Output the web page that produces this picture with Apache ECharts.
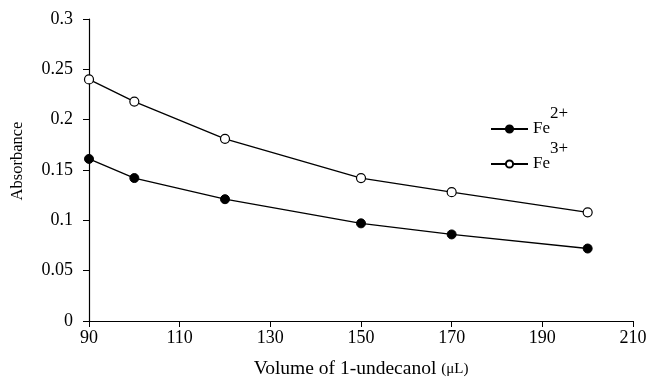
<!DOCTYPE html>
<html>
<head>
<meta charset="utf-8">
<script src="https://cdn.jsdelivr.net/npm/echarts@6/dist/echarts.min.js"></script>
<style>html,body{margin:0;padding:0;background:#fff}#c{width:654px;height:384px}</style>
</head>
<body>
<div id="c"></div>
<script>
const volumes = [90, 100, 120, 150, 170, 200];
const fe2 = [0.161, 0.142, 0.121, 0.097, 0.086, 0.072];
const fe3 = [0.240, 0.218, 0.181, 0.142, 0.128, 0.108];
const seriesNames = ['Fe2+', 'Fe3+'];
const xTicks = [90, 110, 130, 150, 170, 190, 210];
const yTicks = [0, 0.05, 0.1, 0.15, 0.2, 0.25, 0.3];

const font = 'Liberation Serif';
const chart = echarts.init(document.getElementById('c'), null, {renderer: 'canvas'});
const toPairs = (ys) => volumes.map((x, i) => [x, ys[i]]);
const rich = {
  b: {fontFamily: font, fontSize: 17, color: '#000', lineHeight: 48, verticalAlign: 'middle'},
  s: {fontFamily: font, fontSize: 17, color: '#000', lineHeight: 48, verticalAlign: 'top'}
};
function legendText(name) {
  return name === 'Fe2+' ? '{b|Fe}{s|2+}' : '{b|Fe}{s|3+}';
}
chart.setOption({
  animation: false,
  backgroundColor: '#fff',
  grid: {left: 89, right: 21, top: 19, bottom: 61},
  legend: [
    {data: [seriesNames[0]], left: 490, top: 105, padding: 0, itemWidth: 37, itemHeight: 9,
     formatter: legendText, textStyle: {rich: rich}},
    {data: [seriesNames[1]], left: 490, top: 140, padding: 0, itemWidth: 37, itemHeight: 9,
     formatter: legendText, textStyle: {rich: rich}}
  ],
  xAxis: {
    type: 'value', min: 90, max: 210, interval: 20,
    name: '{m|Volume of 1-undecanol }{u|(μL)}',
    nameLocation: 'middle', nameGap: 38,
    nameTextStyle: {rich: {
      m: {fontFamily: font, fontSize: 19.5, color: '#000'},
      u: {fontFamily: font, fontSize: 15, color: '#000'}
    }},
    axisLine: {lineStyle: {color: '#000', width: 1.2}},
    axisTick: {show: true, inside: false, length: 6, lineStyle: {color: '#000'}},
    axisLabel: {fontFamily: font, fontSize: 18, color: '#000', margin: 8,
      formatter: (v) => xTicks.includes(v) ? String(v) : ''},
    splitLine: {show: false}
  },
  yAxis: {
    type: 'value', min: 0, max: 0.3, interval: 0.05,
    name: 'Absorbance', nameLocation: 'middle', nameGap: 63,
    nameTextStyle: {fontFamily: font, fontSize: 16.5, color: '#000', padding: [0, 0, 0, 18]},
    axisLine: {show: true, lineStyle: {color: '#000', width: 1.2}},
    axisTick: {show: true, inside: false, length: 6, lineStyle: {color: '#000'}},
    axisLabel: {fontFamily: font, fontSize: 18, color: '#000', margin: 16,
      formatter: (v) => {
        const t = yTicks.find(k => Math.abs(k - v) < 1e-9);
        return t === undefined ? '' : String(+t.toFixed(2));
      }},
    splitLine: {show: false}
  },
  series: [
    {name: seriesNames[0], type: 'line', data: toPairs(fe2), symbol: 'circle', symbolSize: 9,
     lineStyle: {color: '#000', width: 1.3}, itemStyle: {color: '#000', borderColor: '#000', borderWidth: 1}},
    {name: seriesNames[1], type: 'line', data: toPairs(fe3), symbol: 'circle', symbolSize: 9,
     lineStyle: {color: '#000', width: 1.3}, itemStyle: {color: '#fff', borderColor: '#000', borderWidth: 1.2}}
  ]
});
</script>
</body>
</html>
